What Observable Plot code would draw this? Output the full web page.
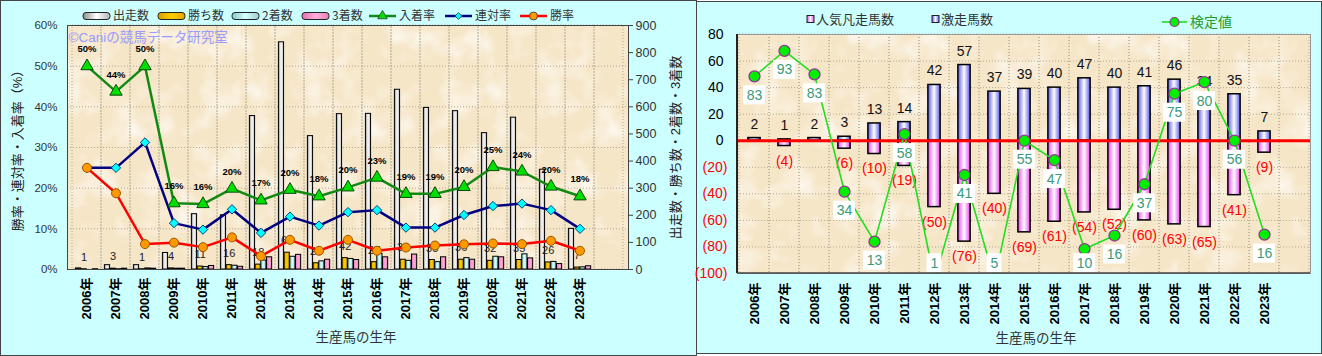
<!DOCTYPE html>
<html>
<head>
<meta charset="utf-8">
<script src="https://cdn.jsdelivr.net/npm/d3@7"></script>
<script src="https://cdn.jsdelivr.net/npm/@observablehq/plot@0.6"></script>
<style>
  html, body { margin: 0; padding: 0; }
  body { width: 1322px; height: 356px; position: relative; overflow: hidden; background: #ffffff;
         font-family: "Liberation Sans", Arial, "Noto Sans CJK JP", sans-serif; }
  #panelL { position: absolute; left: 0; top: 0; width: 697px; height: 356px; box-sizing: border-box;
            background: #ccffff; border: 1.5px solid #444; }
  #panelR { position: absolute; left: 697px; top: 1px; width: 625px; height: 353px; box-sizing: border-box;
            background: #ccffff; border: 1.5px solid #444; border-left: none; }
  .abs { position: absolute; left: 0; top: 0; }
  svg text { font-family: "Liberation Sans", Arial, "Noto Sans CJK JP", sans-serif; }
</style>
</head>
<body>
<div id="panelL"></div>
<div id="panelR"></div>
<svg width="0" height="0" style="position:absolute">
  <defs>
    <linearGradient id="gWhite" x1="0" x2="1" y1="0" y2="0">
      <stop offset="0" stop-color="#8c8c8c"/><stop offset="0.5" stop-color="#ffffff"/><stop offset="1" stop-color="#b4b4b4"/>
    </linearGradient>
    <linearGradient id="gGold" x1="0" x2="1" y1="0" y2="0">
      <stop offset="0" stop-color="#d89e00"/><stop offset="0.5" stop-color="#ffcc00"/><stop offset="1" stop-color="#e0a800"/>
    </linearGradient>
    <linearGradient id="gCyan" x1="0" x2="1" y1="0" y2="0">
      <stop offset="0" stop-color="#88c8c8"/><stop offset="0.5" stop-color="#d8ffff"/><stop offset="1" stop-color="#99d0d0"/>
    </linearGradient>
    <linearGradient id="gPink" x1="0" x2="1" y1="0" y2="0">
      <stop offset="0" stop-color="#e070b0"/><stop offset="0.5" stop-color="#ffb0dd"/><stop offset="1" stop-color="#e880b8"/>
    </linearGradient>
    <linearGradient id="gBlue" x1="0" x2="1" y1="0" y2="0">
      <stop offset="0" stop-color="#5a5aee"/><stop offset="0.5" stop-color="#ffffff"/><stop offset="1" stop-color="#5a5aee"/>
    </linearGradient>
    <linearGradient id="gMag" x1="0" x2="1" y1="0" y2="0">
      <stop offset="0" stop-color="#ee44ee"/><stop offset="0.5" stop-color="#ffffff"/><stop offset="1" stop-color="#ee44ee"/>
    </linearGradient>
    <filter id="noise" x="0" y="0" width="100%" height="100%">
      <feTurbulence type="fractalNoise" baseFrequency="0.035" numOctaves="3" seed="7"/>
      <feColorMatrix type="matrix" values="0 0 0 0 1  0 0 0 0 1  0 0 0 0 1  0 0 0 1.6 -0.75"/>
    </filter>
    <pattern id="paper" width="240" height="240" patternUnits="userSpaceOnUse">
      <rect width="240" height="240" fill="#f6e6c8"/>
      <rect width="240" height="240" filter="url(#noise)"/>
    </pattern>
  </defs>
</svg>
<script>
// ---------------- DATA ----------------
const years = ["2006","2007","2008","2009","2010","2011","2012","2013","2014","2015","2016","2017","2018","2019","2020","2021","2022","2023"];
const emptySlot = "2024"; // empty trailing category slot on both charts

// left chart: counts (right axis, 0-900)
const runs    = [4, 16, 16, 61, 204, 200, 566, 838, 492, 573, 574, 663, 596, 584, 503, 560, 368, 150];
const wins    = [1, 3, 1, 4, 11, 16, 18, 62, 23, 42, 27, 36, 35, 36, 32, 35, 26, 7];
const seconds = [0, 1, 4, 3, 9, 14, 33, 47, 30, 39, 57, 32, 27, 42, 47, 56, 28, 8];
const thirds  = [1, 3, 3, 3, 13, 10, 45, 54, 36, 35, 45, 55, 45, 36, 45, 41, 20, 12];
// left chart: rates in % (left axis, 0-60)
const placeRate  = [50, 43.75, 50, 16.3, 16.1, 19.9, 17.0, 19.6, 18.0, 20.2, 22.6, 18.6, 18.6, 20.3, 25.2, 24.1, 20.4, 18.0];
const rentaiRate = [25, 25, 31.25, 11.4, 9.8, 14.8, 9.0, 13.0, 10.8, 14.1, 14.6, 10.3, 10.3, 13.4, 15.6, 16.2, 14.6, 10.0];
const winRate    = [25, 18.75, 6.25, 6.6, 5.5, 7.9, 3.3, 7.3, 4.6, 7.3, 4.6, 5.4, 5.9, 6.2, 6.4, 6.25, 7.06, 4.6];

// right chart
const gekisou = [2, 1, 2, 3, 13, 14, 42, 57, 37, 39, 40, 47, 40, 41, 46, 34, 35, 7];     // 激走馬数
const bonsou  = [0, 4, 0, 6, 10, 19, 50, 76, 40, 69, 61, 54, 52, 60, 63, 65, 41, 9];     // 人気凡走馬数
const kenteiLabel = [83, 93, 83, 34, 13, 58, 1, 41, 5, 55, 47, 10, 16, 37, 75, 80, 56, 16]; // 検定値
const kenteiPos   = [48.5, 67.7, 50, -38.4, -76, 5, -105, -25.8, -105, 0, -14.6, -81.6, -71.4, -32.8, 35.4, 44.2, 0, -70.7];

const slots = [...years, emptySlot];
const FONT = '"Liberation Sans", Arial, "Noto Sans CJK JP", sans-serif';
const JFONT = '"Noto Sans CJK JP", "Liberation Sans", sans-serif';

// ---------------- LEFT CHART ----------------
const L = {w: 696, h: 356, ml: 67, mr: 68, mt: 25, mb: 87};
const bwL = (L.w - L.ml - L.mr) / slots.length;
const S = 15; // 900 (right axis) <-> 60% (left axis)
const rowsL = years.map((y, i) => ({year: y, runs: runs[i], wins: wins[i], seconds: seconds[i], thirds: thirds[i],
  place: placeRate[i], rentai: rentaiRate[i], win: winRate[i]}));
const seriesL = [
  {key: "runs", fill: "url(#gWhite)"},
  {key: "wins", fill: "url(#gGold)"},
  {key: "seconds", fill: "url(#gCyan)"},
  {key: "thirds", fill: "url(#gPink)"}
];
const barW = 5.7, barStart = 3.4;
const gridStyle = {stroke: "#b0a890", strokeOpacity: 1, strokeDasharray: "1,2", strokeWidth: 1};

const leftPlot = Plot.plot({
  width: L.w, height: L.h, marginLeft: L.ml, marginRight: L.mr, marginTop: L.mt, marginBottom: L.mb,
  style: {background: "transparent", fontFamily: FONT, overflow: "visible"},
  x: {type: "band", domain: slots, padding: 0},
  y: {domain: [0, 60]},
  marks: [
    Plot.frame({fill: "url(#paper)"}),
    Plot.barY(slots, {x: d => d, y1: 0, y2: 60, fill: "none", ...gridStyle}),
    Plot.gridY([10, 20, 30, 40, 50], gridStyle),
    ...seriesL.map((s, k) => Plot.barY(rowsL, {
      x: "year", y: d => d[s.key] / S, fill: s.fill, stroke: "#000", strokeWidth: 1,
      insetLeft: barStart + barW * k, insetRight: bwL - barStart - barW * (k + 1)
    })),
    Plot.text(rowsL, {x: "year", y: d => d.wins / S, text: d => String(d.wins), dy: -12,
      dx: barStart + barW * 1.5 - bwL / 2, fontSize: 11, fill: "#222"}),
    Plot.line(rowsL, {x: "year", y: "place", stroke: "#128a12", strokeWidth: 2.5}),
    Plot.line(rowsL, {x: "year", y: "rentai", stroke: "#000080", strokeWidth: 2.5}),
    Plot.line(rowsL, {x: "year", y: "win", stroke: "#ff0000", strokeWidth: 2.5}),
    Plot.dot(rowsL, {x: "year", y: "place", symbol: "triangle", r: 4.6, fill: "#00e000", stroke: "#0a4a0a", strokeWidth: 1}),
    Plot.dot(rowsL, {x: "year", y: "rentai", symbol: "diamond2", r: 4.2, fill: "#00ffff", stroke: "#004080", strokeWidth: 1}),
    Plot.dot(rowsL, {x: "year", y: "win", symbol: "circle", r: 4.5, fill: "#ff9900", stroke: "#995500", strokeWidth: 1}),
    Plot.text(rowsL, {x: "year", y: "place", text: d => Math.round(d.place) + "%", dy: -17, fontSize: 9.5, fontWeight: "bold", fill: "#000"}),
    Plot.frame({stroke: "#444", strokeWidth: 1}),
    Plot.axisX({tickRotate: -90, tickSize: 0, tickPadding: 8, tickFormat: d => d === emptySlot ? "" : d + "年",
      fontSize: 13, fontWeight: "bold", fill: "#000", label: null, fontFamily: JFONT}),
    Plot.axisY([0, 10, 20, 30, 40, 50, 60], {anchor: "left", tickFormat: d => d + "%", tickSize: 0, tickPadding: 10,
      fontSize: 11.5, fill: "#333", label: null}),
    Plot.axisY(d3.range(0, 901, 100).map(v => v / S), {anchor: "right", tickFormat: d => String(Math.round(d * S)),
      tickSize: 4, tickPadding: 3, fontSize: 12.5, fill: "#333", stroke: "#444", label: null}),
    Plot.text(["勝率・連対率・入着率（%）"], {frameAnchor: "left", dx: -50, rotate: -90, textAnchor: "middle", lineAnchor: "middle",
      fontSize: 13, fill: "#222", fontFamily: JFONT}),
    Plot.text(["出走数・勝ち数・2着数・3着数"], {frameAnchor: "right", dx: 47, rotate: -90, textAnchor: "middle", lineAnchor: "middle",
      fontSize: 13, fill: "#222", fontFamily: JFONT}),
    Plot.text(["生産馬の生年"], {frameAnchor: "bottom", dy: 72, dx: 8, fontSize: 13.5, fill: "#333", fontFamily: JFONT}),
    Plot.text(["©Caniの競馬データ研究室"], {frameAnchor: "top-left", dx: 1, dy: 12, lineAnchor: "middle", fontSize: 13.5,
      fill: "#9a9aff", textAnchor: "start", fontFamily: JFONT})
  ]
});
leftPlot.classList.add("abs");
leftPlot.style.left = "0px";
leftPlot.style.top = "0px";
document.body.appendChild(leftPlot);

// ---------------- RIGHT CHART ----------------
const R = {x0: 697, w: 625, h: 356, ml: 40, mr: 12, mt: 34, mb: 83};
const bwR = (R.w - R.ml - R.mr) / slots.length;
const pxPerUnit = (R.h - R.mt - R.mb) / 180;
const rowsR = years.map((y, i) => ({year: y, geki: gekisou[i], bon: bonsou[i], label: kenteiLabel[i], pos: kenteiPos[i]}));
// label placed below its dot, kept inside the plot area
const labelY = d => Math.max(d.pos, -78) - 19 / pxPerUnit;
const boxH = 19 / pxPerUnit;
const barWR = 12.4;

const rightPlot = Plot.plot({
  width: R.w, height: R.h, marginLeft: R.ml, marginRight: R.mr, marginTop: R.mt, marginBottom: R.mb,
  style: {background: "transparent", fontFamily: FONT, overflow: "visible"},
  x: {type: "band", domain: slots, padding: 0},
  y: {domain: [-100, 80]},
  marks: [
    Plot.frame({fill: "url(#paper)"}),
    Plot.barY(slots, {x: d => d, y1: -100, y2: 80, fill: "none", ...gridStyle}),
    Plot.gridY([-80, -60, -40, -20, 20, 40, 60], gridStyle),
    Plot.barY(rowsR, {x: "year", y: "geki", fill: "url(#gBlue)", stroke: "#000", strokeWidth: 1.5,
      insetLeft: (bwR - barWR) / 2, insetRight: (bwR - barWR) / 2}),
    Plot.barY(rowsR.filter(d => d.bon > 0), {x: "year", y: d => -d.bon, fill: "url(#gMag)", stroke: "#000", strokeWidth: 1.5,
      insetLeft: (bwR - barWR) / 2, insetRight: (bwR - barWR) / 2}),
    Plot.ruleY([0], {stroke: "#ff0000", strokeWidth: 3}),
    Plot.text(rowsR, {x: "year", y: "geki", text: d => String(d.geki), dy: -14, fontSize: 14, fill: "#111"}),
    Plot.text(rowsR.filter(d => d.bon > 0), {x: "year", y: d => -d.bon, text: d => `(${d.bon})`, dy: 15, fontSize: 14, fill: "#ff0000"}),
    Plot.line(rowsR, {x: "year", y: "pos", stroke: "#22dd22", strokeWidth: 1.6, clip: true}),
    Plot.dot(rowsR, {x: "year", y: "pos", r: 5.5, fill: "#00ee00", stroke: "#993399", strokeWidth: 1.3, clip: true}),
    Plot.barY(rowsR.filter(d => d.label >= 10), {x: "year", y1: d => labelY(d) - boxH / 2, y2: d => labelY(d) + boxH / 2,
      fill: "#ffffff", insetLeft: (bwR - 22) / 2, insetRight: (bwR - 22) / 2, clip: true}),
    Plot.barY(rowsR.filter(d => d.label < 10), {x: "year", y1: d => labelY(d) - boxH / 2, y2: d => labelY(d) + boxH / 2,
      fill: "#ffffff", insetLeft: (bwR - 15) / 2, insetRight: (bwR - 15) / 2, clip: true}),
    Plot.text(rowsR, {x: "year", y: labelY, text: d => String(d.label), fontSize: 14, fill: "#3a9a78"}),
    Plot.frame({stroke: "#999", strokeWidth: 1}),
    Plot.axisY([0, 20, 40, 60, 80], {anchor: "left", tickSize: 0, tickPadding: 14, fontSize: 14, fill: "#000", label: null}),
    Plot.axisY([-20, -40, -60, -80, -100], {anchor: "left", tickSize: 0, tickPadding: 10, fontSize: 14, fill: "#ff0000",
      tickFormat: d => `(${-d})`, label: null}),
    Plot.axisX({tickRotate: -90, tickSize: 0, tickPadding: 9, tickFormat: d => d === emptySlot ? "" : d + "年",
      fontSize: 13, fontWeight: "bold", fill: "#000", label: null, fontFamily: JFONT}),
    Plot.text(["生産馬の生年"], {frameAnchor: "bottom", dy: 69, dx: 12, fontSize: 13.5, fill: "#333", fontFamily: JFONT})
  ]
});
rightPlot.classList.add("abs");
rightPlot.style.left = R.x0 + "px";
rightPlot.style.top = "0px";
document.body.appendChild(rightPlot);

// left/bottom axis lines of right plot
{
  const svg = d3.select(rightPlot);
  svg.append("line").attr("x1", R.ml).attr("x2", R.ml).attr("y1", R.mt).attr("y2", R.h - R.mb).attr("stroke", "#222").attr("stroke-width", 2);
  svg.append("line").attr("x1", R.ml).attr("x2", R.w - R.mr).attr("y1", R.h - R.mb).attr("y2", R.h - R.mb).attr("stroke", "#444").attr("stroke-width", 1.5);
}

// ---------------- LEGENDS ----------------
const lg = d3.select("body").append("svg").attr("class", "abs").attr("width", 1322).attr("height", 30)
  .style("pointer-events", "none");
const legL = [
  {type: "bar", fill: "url(#gWhite)", x: 83, label: "出走数"},
  {type: "bar", fill: "url(#gGold)", x: 158, label: "勝ち数"},
  {type: "bar", fill: "url(#gCyan)", x: 232, label: "2着数"},
  {type: "bar", fill: "url(#gPink)", x: 302, label: "3着数"},
  {type: "line", stroke: "#128a12", sym: d3.symbolTriangle, size: 40, fill: "#00e000", x: 369, label: "入着率"},
  {type: "line", stroke: "#000080", sym: d3.symbolDiamond2, size: 30, fill: "#00ffff", x: 445, label: "連対率"},
  {type: "line", stroke: "#ff0000", sym: d3.symbolCircle, size: 50, fill: "#ff9900", x: 520, label: "勝率"}
];
const yL = 16;
legL.forEach(it => {
  if (it.type === "bar") {
    lg.append("rect").attr("x", it.x).attr("y", yL - 3.5).attr("width", 27).attr("height", 7).attr("rx", 3)
      .attr("fill", it.fill).attr("stroke", "#222").attr("stroke-width", 1);
  } else {
    lg.append("line").attr("x1", it.x).attr("x2", it.x + 27).attr("y1", yL).attr("y2", yL).attr("stroke", it.stroke).attr("stroke-width", 2.5);
    lg.append("path").attr("d", d3.symbol(it.sym, it.size)()).attr("transform", `translate(${it.x + 13.5},${yL})`)
      .attr("fill", it.fill).attr("stroke", "#333").attr("stroke-width", 0.8);
  }
  lg.append("text").attr("x", it.x + 30).attr("y", yL).attr("dy", "0.36em").attr("font-size", 12).attr("fill", "#333")
    .style("font-family", JFONT).text(it.label);
});
// right legend
const yR = 19;
[{x: 807, fill: "url(#gMag)", label: "人気凡走馬数"}, {x: 932, fill: "url(#gBlue)", label: "激走馬数"}].forEach(it => {
  lg.append("rect").attr("x", it.x).attr("y", yR - 3.5).attr("width", 7).attr("height", 7).attr("fill", it.fill)
    .attr("stroke", "#222").attr("stroke-width", 1);
  lg.append("text").attr("x", it.x + 9).attr("y", yR).attr("dy", "0.36em").attr("font-size", 13).attr("fill", "#333")
    .style("font-family", JFONT).text(it.label);
});
lg.append("line").attr("x1", 1162).attr("x2", 1187).attr("y1", yR + 3).attr("y2", yR + 3).attr("stroke", "#22dd22").attr("stroke-width", 1.6);
lg.append("circle").attr("cx", 1174.5).attr("cy", yR + 3).attr("r", 4.5).attr("fill", "#00ee00").attr("stroke", "#993399").attr("stroke-width", 1.2);
lg.append("text").attr("x", 1190).attr("y", yR + 3).attr("dy", "0.36em").attr("font-size", 14).attr("fill", "#2a9a2a")
  .style("font-family", JFONT).text("検定値");
</script>
</body>
</html>
